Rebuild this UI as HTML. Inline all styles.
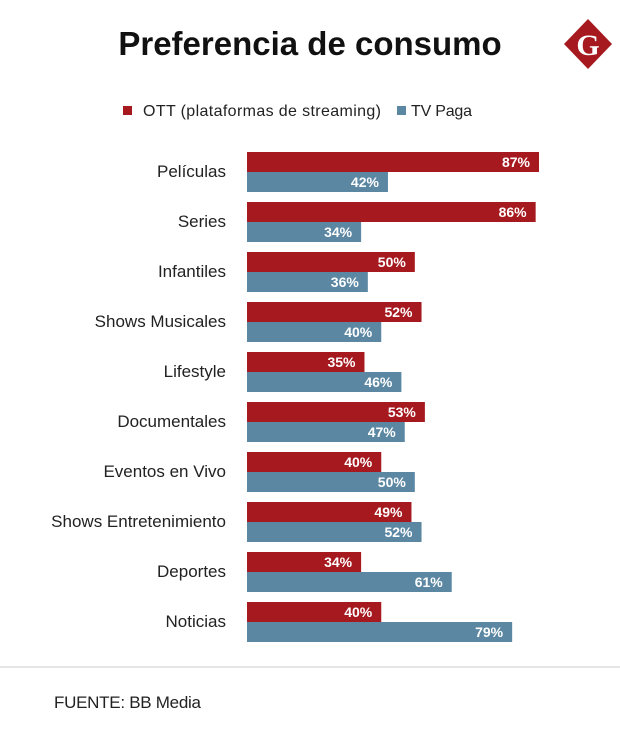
<!DOCTYPE html>
<html><head><meta charset="utf-8"><style>
body{margin:0;background:#fff;width:620px;height:745px;overflow:hidden;font-family:"Liberation Sans",sans-serif;}
</style></head><body>
<svg width="620" height="745" xmlns="http://www.w3.org/2000/svg" id="chart">
<text x="310" y="55" text-anchor="middle" font-size="33" font-weight="bold" fill="#111">Preferencia de consumo</text>
<g>
<polygon points="588,19 612,44 588,69 564,44" fill="#a5191f"/>
<text x="588" y="55" text-anchor="middle" font-family="Liberation Serif,serif" font-weight="bold" font-size="30" fill="#fff">G</text>
</g>
<g>
<rect x="123" y="106" width="9" height="9" fill="#a5191f"/>
<text x="143" y="116" font-size="16" textLength="238" fill="#222">OTT (plataformas de streaming)</text>
<rect x="397" y="106" width="9" height="9" fill="#5b87a3"/>
<text x="411" y="116" font-size="16" textLength="61" fill="#222">TV Paga</text>
</g>
<g id="bars"></g>
<line x1="0" y1="667" x2="620" y2="667" stroke="#ccc" stroke-width="1"/>
<text x="54" y="708" font-size="17" textLength="147" fill="#222">FUENTE: BB Media</text>
</svg>
<script>
const categories=["Películas","Series","Infantiles","Shows Musicales","Lifestyle","Documentales","Eventos en Vivo","Shows Entretenimiento","Deportes","Noticias"];
const ottValues=[87,86,50,52,35,53,40,49,34,40];
const tvValues=[42,34,36,40,46,47,50,52,61,79];
const ns="http://www.w3.org/2000/svg";
const g=document.getElementById('bars');
const x0=247, scale=292/87, top0=152, pitch=50, bh=20;
function xw(v){return v*scale;}
function mk(t,a){const e=document.createElementNS(ns,t);for(const k in a)e.setAttribute(k,a[k]);return e;}
categories.forEach((c,i)=>{
  const y=top0+i*pitch;
  const lab=mk('text',{x:226,y:y+25,'text-anchor':'end','font-size':'17',fill:'#222'});
  lab.textContent=c;
  
  
  g.appendChild(lab);
  [[ottValues[i],'#a5191f',y,'ott'],[tvValues[i],'#5b87a3',y+bh,'tv']].forEach(([v,col,yy,s])=>{
    const r=mk('rect',{x:x0,y:yy,width:xw(v),height:bh,fill:col});
    
    
    g.appendChild(r);
    const t=mk('text',{x:x0+xw(v)-9,y:yy+15,'text-anchor':'end','font-size':'14','font-weight':'bold',fill:'#fff'});
    t.textContent=v+'%';
    
    
    g.appendChild(t);
  });
});
</script>
</body></html>
